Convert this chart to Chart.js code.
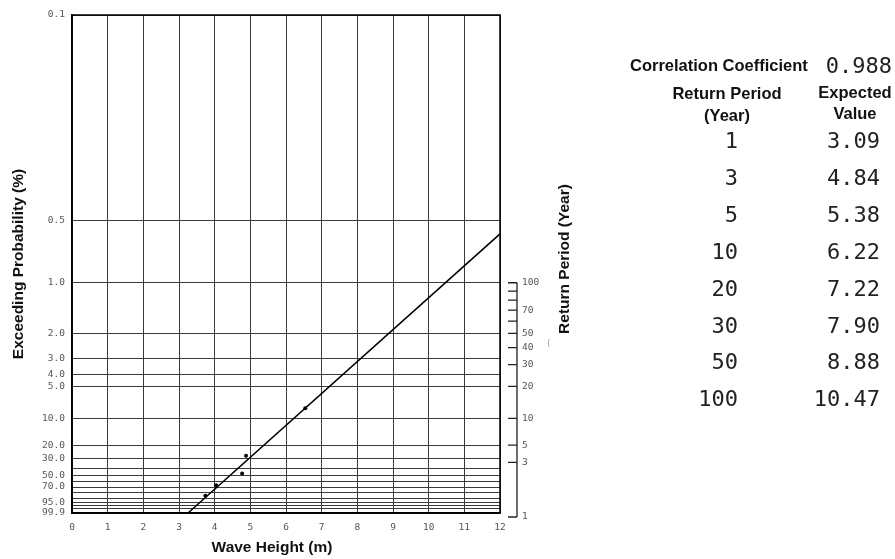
<!DOCTYPE html>
<html>
<head>
<meta charset="utf-8">
<script src="https://cdn.jsdelivr.net/npm/chart.js@4"></script>
<style>
  body { margin: 0; background: #fff; }
  #wrap { position: relative; width: 895px; height: 559px; overflow: hidden; }
  .hd, .hdl, .num { position: absolute; white-space: nowrap; }
  .hd, .hdl { font: bold 16.5px 'Liberation Sans', Arial, sans-serif; color: #111; }
  .hd { transform: translate(-50%, -50%); }
  .hdl { transform: translate(0, -50%); }
  .num { font: 22px 'DejaVu Sans Mono', monospace; color: #222; transform: translate(-100%, -50%); }
</style>
</head>
<body>
<div id="wrap">
  <canvas id="myChart" width="895" height="559"></canvas>
  <div id="table"></div>
</div>
<script>
// probability paper (FT-II, k = 3.33)
const shapeK = 3.33;

const probGrid = [0.1, 0.5, 1, 2, 3, 4, 5, 10, 20, 30, 40, 50, 60, 70, 80, 90, 95, 98, 99, 99.9];
const probLabels = [0.1, 0.5, 1, 2, 3, 4, 5, 10, 20, 30, 50, 70, 95, 99.9];
const returnTicks = [100, 90, 80, 70, 60, 50, 40, 30, 20, 10, 5, 3, 1];
const returnLabels = [100, 70, 50, 40, 30, 20, 10, 5, 3, 1];

// observed wave heights and plotting positions (%)
const waveHeights = [6.54, 4.88, 4.77, 4.04, 3.74];
const exceedProbs = [7.9, 27.3, 46.8, 66.8, 86.0];

// result table
const returnPeriods = [1, 3, 5, 10, 20, 30, 50, 100];
const expectedValues = [3.09, 4.84, 5.38, 6.22, 7.22, 7.90, 8.88, 10.47];
const correlation = 0.988;

function reducedVariate(p) {
  return shapeK * (Math.pow(-Math.log(1 - p), -1 / shapeK) - 1);
}

// straight line through the expected values
const fitPts = returnPeriods
  .map((t, i) => [t, reducedVariate(1 / t), expectedValues[i]])
  .filter(d => d[0] > 1);
const mr = fitPts.reduce((s, d) => s + d[1], 0) / fitPts.length;
const mh = fitPts.reduce((s, d) => s + d[2], 0) / fitPts.length;
const slope = fitPts.reduce((s, d) => s + (d[1] - mr) * (d[2] - mh), 0) /
  fitPts.reduce((s, d) => s + (d[1] - mr) * (d[1] - mr), 0);
const icpt = mh - slope * mr;

const yMin = reducedVariate(0.999);
const yMax = reducedVariate(0.001);
const xMax = 12;

const fitLine = [
  { x: icpt + slope * yMin, y: yMin },
  { x: xMax, y: (xMax - icpt) / slope },
];
const points = waveHeights.map((h, i) => ({ x: h, y: reducedVariate(exceedProbs[i] / 100) }));

const tickFont = { family: "'DejaVu Sans Mono', monospace", size: 9.5 };
const titleFont = "bold 15.5px 'Liberation Sans', Arial, sans-serif";

const extras = {
  id: 'extras',
  beforeDatasetsDraw(chart) {
    const { ctx, chartArea: a } = chart;
    ctx.save();
    ctx.strokeStyle = '#000';
    ctx.lineWidth = 1.5;
    ctx.strokeRect(a.left, a.top, a.right - a.left, a.bottom - a.top);
    ctx.restore();
  },
  afterDraw(chart) {
    const { ctx, chartArea: a, scales: { y } } = chart;
    const axisX = a.right + 17;
    const pix = t => (t > 1 ? y.getPixelForValue(reducedVariate(1 / t)) : y.bottom + 4);
    ctx.save();
    // return period scale
    ctx.strokeStyle = '#222';
    ctx.lineWidth = 1.3;
    ctx.beginPath();
    ctx.moveTo(axisX, pix(returnTicks[0]));
    ctx.lineTo(axisX, pix(1));
    returnTicks.forEach(t => {
      ctx.moveTo(axisX - 9, pix(t));
      ctx.lineTo(axisX, pix(t));
    });
    ctx.stroke();
    ctx.fillStyle = '#555';
    ctx.font = "9.5px 'DejaVu Sans Mono', monospace";
    ctx.textAlign = 'left';
    ctx.textBaseline = 'middle';
    returnLabels.forEach(t => ctx.fillText(String(t), axisX + 5, pix(t)));

    ctx.fillStyle = '#999';
    ctx.font = "9px 'DejaVu Sans', sans-serif";
    ctx.fillText('(', 547, 344);

    // titles
    ctx.fillStyle = '#111';
    ctx.font = titleFont;
    ctx.textAlign = 'center';
    ctx.fillText('Wave Height (m)', 272, 548);
    ctx.translate(565, 259);
    ctx.rotate(-Math.PI / 2);
    ctx.fillText('Return Period (Year)', 0, 0);
    ctx.restore();
  },
};

new Chart('myChart', {
  type: 'scatter',
  data: {
    datasets: [
      {
        data: fitLine,
        showLine: true,
        borderColor: '#000',
        borderWidth: 1.5,
        pointRadius: 0,
      },
      {
        data: points,
        pointRadius: 2,
        borderWidth: 0,
        backgroundColor: '#000',
      },
    ],
  },
  options: {
    responsive: false,
    animation: false,
    layout: { padding: { top: 15, right: 395, left: 0, bottom: 0 } },
    scales: {
      x: {
        type: 'linear',
        min: 0,
        max: xMax,
        afterFit: s => { s.height = 46; },
        ticks: { stepSize: 1, padding: 9, color: '#555', font: tickFont },
        grid: { color: '#3a3a3a', lineWidth: 1, drawTicks: false },
        border: { color: '#000', width: 1.5 },
      },
      y: {
        type: 'linear',
        min: yMin,
        max: yMax,
        afterBuildTicks: s => {
          s.ticks = probGrid.map(p => ({ value: reducedVariate(p / 100) }));
        },
        afterFit: s => { s.width = 72; },
        ticks: {
          autoSkip: false,
          padding: 7,
          color: '#555',
          font: tickFont,
          callback: (v, i) => (probLabels.includes(probGrid[i]) ? probGrid[i].toFixed(1) : ''),
        },
        grid: { color: '#3a3a3a', lineWidth: 1, drawTicks: false },
        border: { color: '#000', width: 1.5 },
        title: {
          display: true,
          text: 'Exceeding Probability (%)',
          color: '#111',
          font: { family: "'Liberation Sans', Arial, sans-serif", size: 15.5, weight: 'bold' },
          padding: { top: 9, bottom: 0 },
        },
      },
    },
    plugins: {
      legend: { display: false },
      tooltip: { enabled: false },
    },
  },
  plugins: [extras],
});

// result table
const table = document.getElementById('table');
function addText(cls, text, x, y) {
  const d = document.createElement('div');
  d.className = cls;
  d.textContent = text;
  d.style.left = x + 'px';
  d.style.top = y + 'px';
  table.appendChild(d);
}
addText('hdl', 'Correlation Coefficient', 630, 65);
addText('num', correlation.toFixed(3), 892, 65);
addText('hd', 'Return Period', 727, 93);
addText('hd', '(Year)', 727, 115);
addText('hd', 'Expected', 855, 92);
addText('hd', 'Value', 855, 113);
returnPeriods.forEach((t, i) => {
  const rowY = 140 + i * 36.9;
  addText('num', String(t), 738, rowY);
  addText('num', expectedValues[i].toFixed(2), 880, rowY);
});
</script>
</body>
</html>
